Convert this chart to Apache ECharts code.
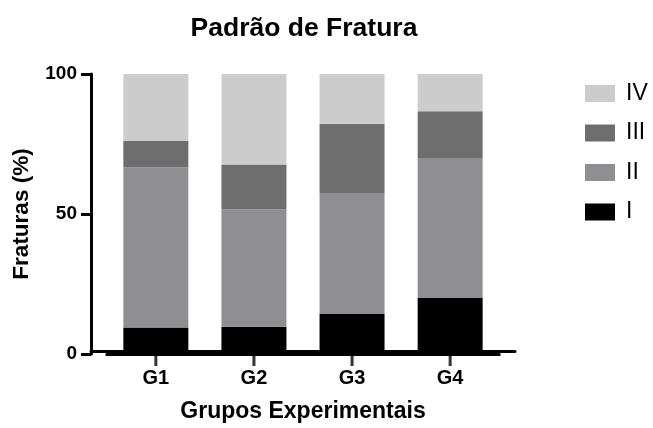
<!DOCTYPE html>
<html><head><meta charset="utf-8">
<script src="https://cdn.jsdelivr.net/npm/echarts@6/dist/echarts.min.js"></script>
<style>html,body{margin:0;padding:0;background:#fff}#c{width:653px;height:428px}</style>
</head><body><div id="c"></div>
<script>
const categories = ['G1', 'G2', 'G3', 'G4'];
const seriesNames = ['I', 'II', 'III', 'IV'];
const valuesI   = [9.5, 9.7, 14.3, 20.0];
const valuesII  = [57.1, 41.9, 42.9, 50.0];
const valuesIII = [9.5, 16.1, 25.0, 16.7];
const valuesIV  = [23.9, 32.3, 17.8, 13.3];
const yTicks = [0, 50, 100];
const colors = ['#000000', '#8f8f93', '#6e6e6e', '#cccccc'];
const FONT = "'Liberation Sans', Arial, sans-serif";

const allValues = [valuesI, valuesII, valuesIII, valuesIV];

const barSeries = seriesNames.map((name, s) => ({
  name, type: 'bar', stack: 'total', barWidth: 65,
  xAxisIndex: 0, yAxisIndex: 0,
  itemStyle: {color: colors[s]},
  data: allValues[s]
}));
// category tick marks below the axis, placed at each category's zero
const tickSeries = {
  type: 'scatter', xAxisIndex: 0, yAxisIndex: 0, silent: true, clip: false, z: 10,
  symbol: 'rect', symbolSize: [3, 11], symbolOffset: [0, 6.5],
  itemStyle: {color: '#000'},
  data: categories.map(c => [c, 0])
};

const chart = echarts.init(document.getElementById('c'), null, {renderer: 'canvas'});
chart.setOption({
  animation: false,
  backgroundColor: '#fff',
  title: {
    text: 'Padrão de Fratura', left: 299, top: 10, textAlign: 'center',
    textStyle: {fontFamily: FONT, fontSize: 26.5, fontWeight: 'bold', color: '#000'}
  },
  legend: {
    orient: 'vertical', left: 580, top: 77, itemWidth: 30, itemHeight: 17, itemGap: 16.5,
    data: ['IV', 'III', 'II', 'I'], icon: 'rect',
    textStyle: {fontFamily: FONT, fontSize: 23, color: '#000', padding: [0, 0, 0, 6]}
  },
  grid: [
    {left: 106.8, right: 153.8, top: 74, bottom: 74, containLabel: false},
    {left: 91, right: 138, top: 74, bottom: 74, containLabel: false}
  ],
  xAxis: [
    {
      type: 'category', gridIndex: 0, data: categories,
      axisLine: {show: true, lineStyle: {color: '#000', width: 3}},
      axisTick: {show: false},
      axisLabel: {fontFamily: FONT, fontSize: 20, fontWeight: 'bold', color: '#000', margin: 14}
    },
    {
      type: 'value', gridIndex: 1, min: 0, max: 1,
      name: 'Grupos Experimentais', nameLocation: 'middle', nameGap: 49,
      nameTextStyle: {fontFamily: FONT, fontSize: 23, fontWeight: 'bold', color: '#000'},
      axisLine: {show: true, lineStyle: {color: '#000', width: 3}},
      axisTick: {show: false}, axisLabel: {show: false}, splitLine: {show: false}
    }
  ],
  yAxis: [
    {
      type: 'value', gridIndex: 0, min: 0, max: 100, interval: 50, offset: 15.8,
      name: 'Fraturas (%)', nameLocation: 'middle', nameGap: 58,
      nameTextStyle: {fontFamily: FONT, fontSize: 22.5, fontWeight: 'bold', color: '#000'},
      axisLine: {show: true, lineStyle: {color: '#000', width: 3}},
      axisTick: {show: true, length: 10, lineStyle: {color: '#000', width: 3}},
      axisLabel: {fontFamily: FONT, fontSize: 19, fontWeight: 'bold', color: '#000', margin: 14,
        formatter: v => yTicks.includes(v) ? String(v) : ''},
      splitLine: {show: false}
    },
    {type: 'value', gridIndex: 1, min: 0, max: 100,
      axisLine: {show: false}, axisTick: {show: false}, axisLabel: {show: false}, splitLine: {show: false}}
  ],
  series: barSeries.concat([tickSeries])
});
</script></body></html>
